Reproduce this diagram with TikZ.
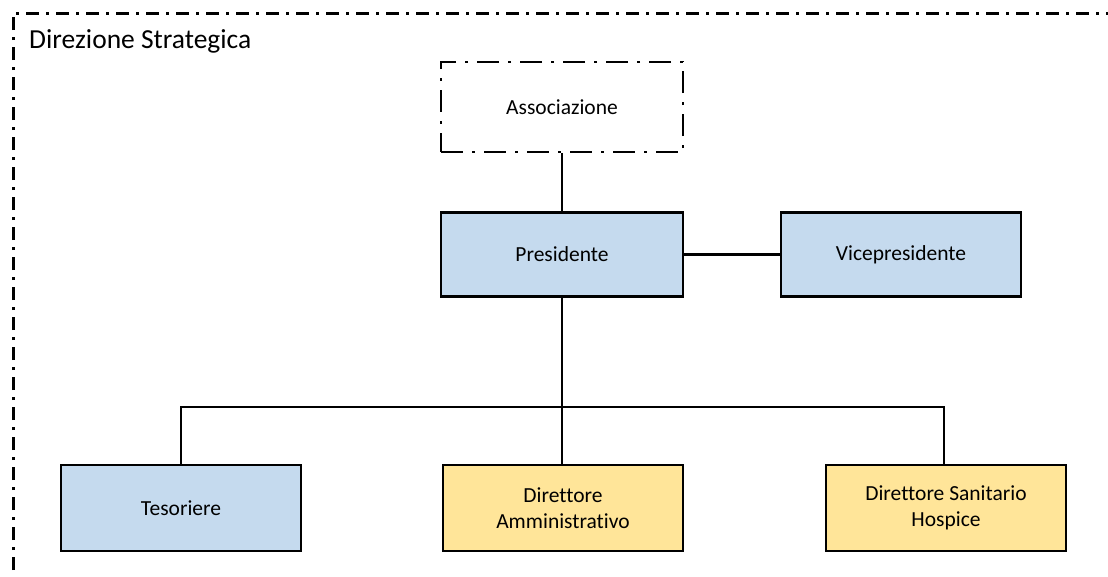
\documentclass[tikz,border=0pt]{standalone}
\usepackage{fontspec}
\setmainfont{Carlito}[Ligatures=NoCommon]
\definecolor{boxblue}{RGB}{197,218,238}
\definecolor{boxyellow}{RGB}{255,229,153}
\tikzset{
  role/.style={draw=black, line width=2.8pt, minimum width=240pt, minimum height=84pt,
    inner sep=0pt, align=center, font=\fontsize{21.5}{26}\selectfont},
  bluerole/.style={role, fill=boxblue},
  yellowrole/.style={role, fill=boxyellow},
  link/.style={draw=black, line width=2.4pt},
  framedash/.style={line width=3pt, dash pattern=on 13pt off 7pt on 3pt off 7pt},
  assocdash/.style={line width=2.8pt, dash pattern=on 22pt off 9pt on 3pt off 9pt}
}
\begin{document}
\begin{tikzpicture}[x=1pt, y=-1pt]
  \useasboundingbox (0,0) rectangle (1108,576);
  \clip (0,0) rectangle (1108,576);
  \fill[white] (0,0) rectangle (1108,576);

  % outer frame of the strategic area (runs off the lower and right edges)
  \draw[framedash] (13,600) -- (13,13) -- (1130,13);
  \node[anchor=west, font=\fontsize{27.5}{32}\selectfont, inner sep=0pt] (title) at (29,41) {Direzione Strategica};

  % roles
  \node[role, assocdash, minimum height=90pt, minimum width=242pt] (assoc) at (562,107) {Associazione};
  \node[bluerole, minimum width=242pt] (pres) at (562,254.5) {Presidente};
  \node[bluerole] (vice) at (901,254.5) {Vicepresidente};
  \node[bluerole, minimum height=86pt] (tes) at (181,508) {Tesoriere};
  \node[yellowrole, minimum height=86pt] (amm) at (563,508) {Direttore\\Amministrativo};
  \node[yellowrole, minimum height=86pt] (san) at (946,508) {Direttore Sanitario\\Hospice};

  % connectors
  \coordinate (bus) at (562,407);
  \draw[link] (assoc.south) -- (pres.north);
  \draw[link] (pres.east) -- (vice.west);
  \draw[link] (pres.south) -- (pres.south |- amm.north);
  \draw[link] (tes.north -| 181,0) -- (181,407) -- (944,407) -- (944,0 |- san.north);
\end{tikzpicture}
\end{document}
